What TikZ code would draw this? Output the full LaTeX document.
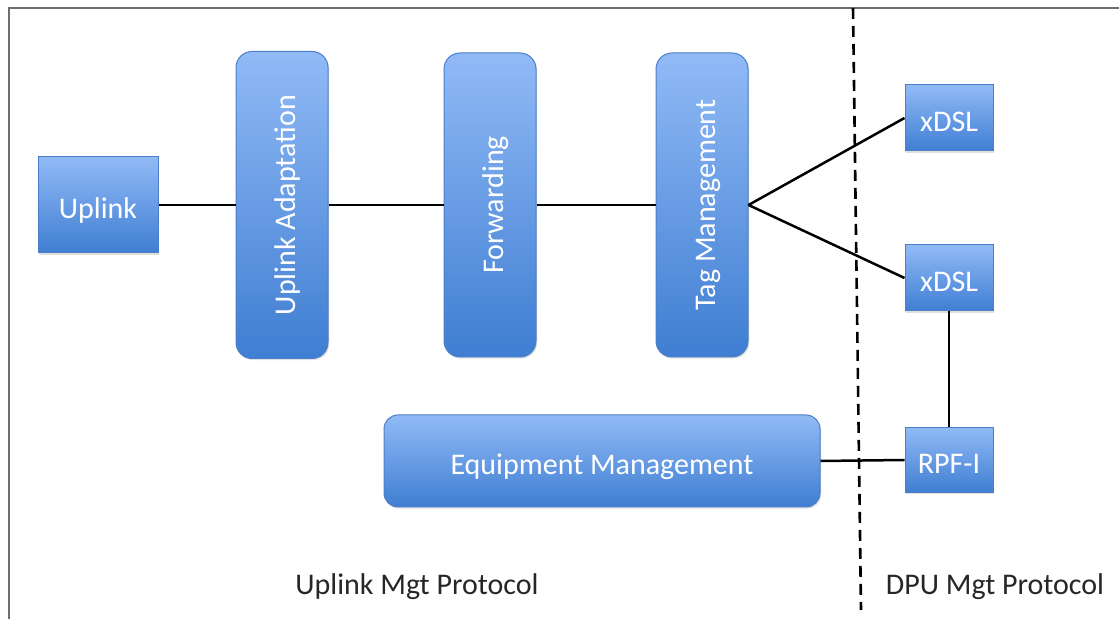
\documentclass[tikz,border=0pt]{standalone}
\usepackage{fontspec}
\setmainfont{Carlito}
\usepackage{graphicx}
\usepackage{tikz}
\usetikzlibrary{shadows}

\definecolor{boxtop}{HTML}{91BAF6}
\definecolor{boxbot}{HTML}{3F7ED2}
\definecolor{boxline}{HTML}{4B7FC9}
\definecolor{framegray}{HTML}{6E6E6E}

% text standing upright in the tall blocks
\newcommand{\uptext}[1]{\rotatebox{90}{\raisebox{0pt}[13pt][0pt]{#1}}}

\begin{document}
\begin{tikzpicture}[x=0.5pt, y=-0.5pt,
  block/.style={draw=boxline, line width=0.5pt, top color=boxtop, bottom color=boxbot,
    text=white, font=\fontsize{15}{18}\selectfont, inner sep=0pt,
    drop shadow={opacity=0.25, shadow xshift=0.6pt, shadow yshift=-0.8pt}},
  flatblock/.style={block, text height=13.4pt, text depth=0pt},
  roundblock/.style={block, rounded corners=8pt},
  link/.style={line width=1.25pt, black},
  protolabel/.style={font=\fontsize{15}{18}\selectfont, text=black!85}]
  \useasboundingbox (0,0) rectangle (1119,619);

  % Frame
  \draw[framegray, line width=1pt] (9,619) -- (9,8) -- (1119,8);

  % Uplink side
  \node[flatblock, minimum width=60pt, minimum height=48pt] (uplink) at (98,205) {Uplink};
  \node[roundblock, minimum width=46pt, minimum height=153.5pt] (adapt) at (282,205) {\uptext{Uplink Adaptation}};
  \node[roundblock, minimum width=46pt, minimum height=152pt] (forward) at (490,205) {\uptext{Forwarding}};
  \node[roundblock, minimum width=46pt, minimum height=152pt] (tag) at (702,205) {\uptext{Tag Management}};
  \node[flatblock, rounded corners=7pt, minimum width=218pt, minimum height=46pt] (equip) at (602,461) {Equipment Management};

  % DPU side
  \node[flatblock, minimum width=44pt, minimum height=33pt] (xdslA) at (949,118) {xDSL};
  \node[flatblock, minimum width=44pt, minimum height=33pt] (xdslB) at (949,278) {xDSL};
  \node[flatblock, minimum width=44pt, minimum height=32.5pt] (rpf) at (949,460) {RPF-I};

  % Connectors
  \draw[link] (uplink) -- (adapt);
  \draw[link] (adapt) -- (forward);
  \draw[link] (forward) -- (tag);
  \draw[link] (tag.east) -- (xdslA.west);
  \draw[link] (tag.east) -- (xdslB.west);
  \draw[link] (xdslB.south) -- (rpf.north);
  \draw[link] (equip.east) -- (rpf.west);

  % Divider
  \coordinate (divtop) at (853,8);
  \coordinate (divbot) at (861,610);
  \draw[line width=1.3pt, dash pattern=on 5.5pt off 3.5pt] (divtop) -- (divbot);

  \node[protolabel] (uplinkproto) at (417,587) {Uplink Mgt Protocol};
  \node[protolabel] (dpuproto) at (995,587) {DPU Mgt Protocol};
\end{tikzpicture}
\end{document}
